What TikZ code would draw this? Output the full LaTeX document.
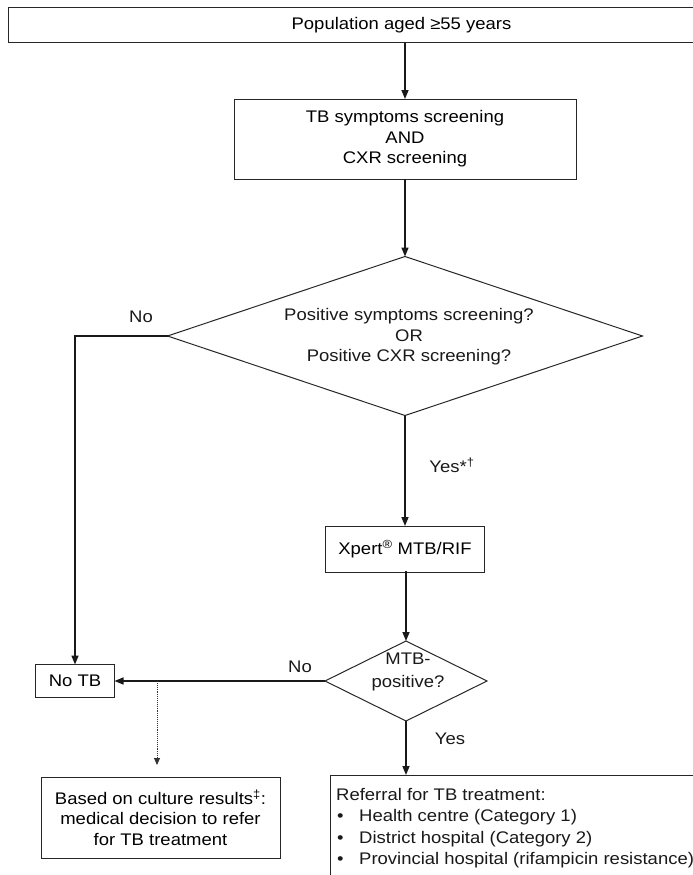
\documentclass[tikz,border=0pt]{standalone}
\usepackage{fontspec}
\setmainfont{Liberation Sans}[FakeStretch=1.1]
\usetikzlibrary{arrows.meta,shapes.geometric}
\begin{document}
\begin{tikzpicture}[x=1pt,y=-1pt,
  font=\fontsize{16.8}{20.5}\selectfont,
  box/.style={draw=black!85, line width=1pt, inner sep=0pt, outer sep=0pt, align=center},
  dia/.style={diamond, draw=black!85, line width=1pt, inner sep=0pt, outer sep=0pt},
  arr/.style={draw=black!90, line width=1.5pt, -{Triangle[length=9pt,width=7pt]}},
  dotarr/.style={draw=black!80, line width=0.9pt, densely dotted, -{Triangle[length=7pt,width=6pt]}},
  lbl/.style={inner sep=0pt, text=black!90},
  txt/.style={inner sep=0pt, align=center, text=black!90}]
\useasboundingbox (0,0) rectangle (693,875);
\clip (0,0) rectangle (693,875);

% boxes
\node[box, minimum width=787pt, minimum height=35pt] (top) at (401.5,25.5) {Population aged ≥55 years};
\node[box, minimum width=342pt, minimum height=80pt] (b2) at (405,139) {TB symptoms screening\\AND\\CXR screening};
\node[dia, minimum width=475pt, minimum height=159pt] (d1) at (405,336) {};
\node[txt] (d1t) at (409,337) {Positive symptoms screening?\\OR\\Positive CXR screening?};
\node[box, minimum width=159pt, minimum height=46pt] (xp) at (405,549) {Xpert\textsuperscript{®} MTB/RIF};
\node[dia, minimum width=162pt, minimum height=80pt] (d2) at (406,681) {};
\node[txt, font=\fontsize{16.8}{22.5}\selectfont] (d2t) at (408,672) {MTB-\\positive?};
\node[box, minimum width=79pt, minimum height=33pt] (notb) at (75,681) {No TB};
\node[box, minimum width=239pt, minimum height=81pt] (cult) at (160.5,817.5) {Based on culture results\textsuperscript{‡}:\\medical decision to refer\\for TB treatment};
\node[box, minimum width=430pt, minimum height=125pt] (ref) at (545,837.5) {};
\node[lbl, anchor=base west] (r1) at (336,800) {Referral for TB treatment:};
\node[lbl, anchor=base west] (r2) at (336,821.5) {\hspace*{1pt}\makebox[22pt][l]{•}Health centre (Category 1)};
\node[lbl, anchor=base west] (r3) at (336,843) {\hspace*{1pt}\makebox[22pt][l]{•}District hospital (Category 2)};
\node[lbl, anchor=base west] (r4) at (336,864.5) {\hspace*{1pt}\makebox[22pt][l]{•}Provincial hospital (rifampicin resistance)};

% labels
\node[lbl] (no1) at (141,317) {No};
\node[lbl] (yes1) at (452,465) {Yes*\textsuperscript{†}};
\node[lbl] (no2) at (300,667) {No};
\node[lbl] (yes2) at (450,739) {Yes};

% connectors
\draw[arr] (top.south -| b2.north) -- (b2.north);
\draw[arr] (b2.south) -- (d1.north);
\draw[arr] (d1.west) -| (notb.north);
\draw[arr] (d1.south) -- (xp.north);
\draw[arr] (xp.south) -- (xp.south -| d2.north) -- (d2.north);
\draw[arr] (d2.west) -- (notb.east);
\coordinate (ds) at (157,681);
\coordinate (de) at (157,765);
\draw[dotarr] (ds) -- (de);
\draw[arr] (d2.south) -- (d2.south |- ref.north);
\end{tikzpicture}
\end{document}
